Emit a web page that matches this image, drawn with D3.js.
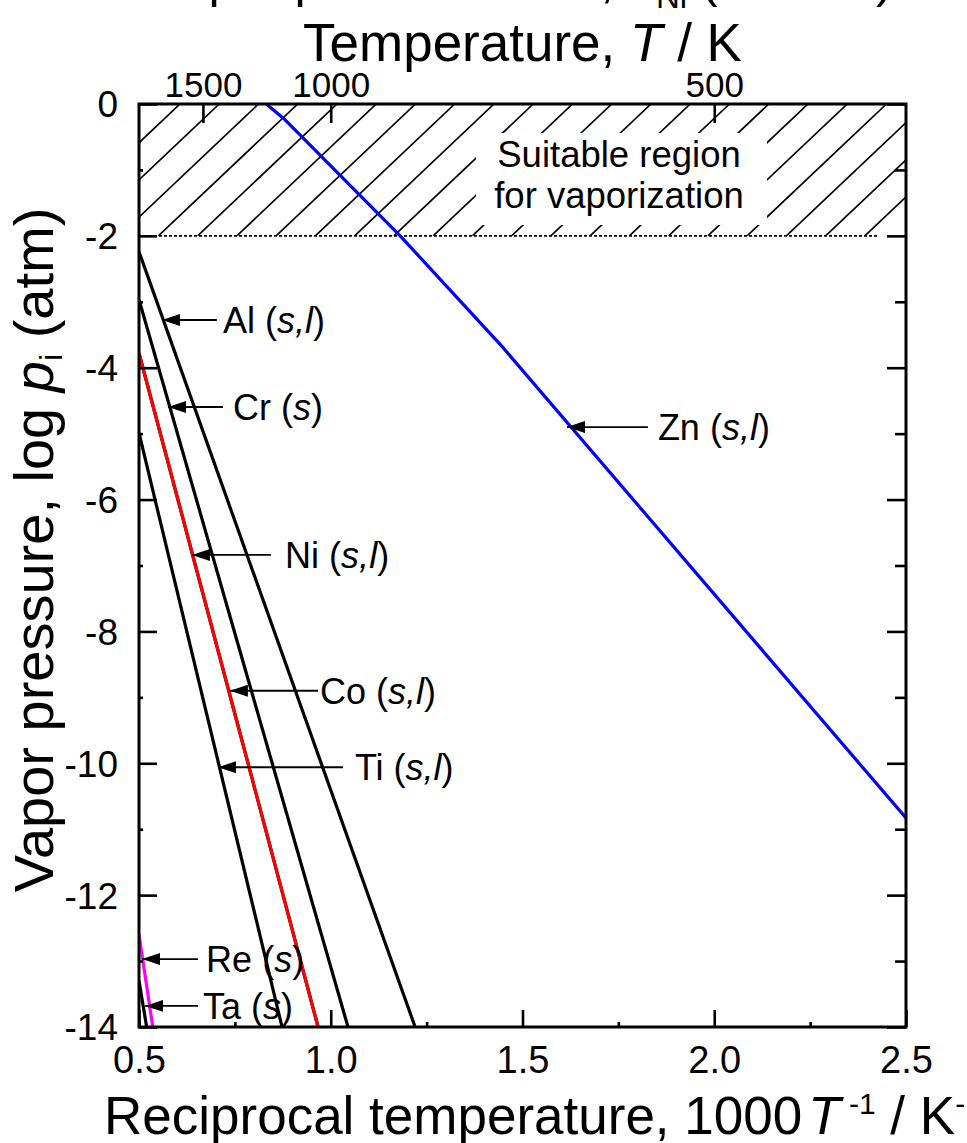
<!DOCTYPE html>
<html>
<head>
<meta charset="utf-8">
<script src="https://cdn.jsdelivr.net/npm/d3@7/dist/d3.min.js"></script>
<style>
  html, body { margin: 0; padding: 0; background: #fff; }
  svg { display: block; font-family: "Liberation Sans", Arial, Helvetica, sans-serif; }
</style>
</head>
<body>
<svg id="chart" width="967" height="1143"></svg>
<script>
// ---------------- data ----------------
const xTicks = [0.5, 1.0, 1.5, 2.0, 2.5];
const xTickLabels = ["0.5", "1.0", "1.5", "2.0", "2.5"];
const xMinorTicks = [0.75, 1.25, 1.75, 2.25];
const yTicks = [0, -2, -4, -6, -8, -10, -12, -14];
const yTickLabels = ["0", "-2", "-4", "-6", "-8", "-10", "-12", "-14"];
const yMinorTicks = [-1, -3, -5, -7, -9, -11, -13];
const topTemps = [1500, 1000, 500];
const topTempLabels = ["1500", "1000", "500"];
const suitableLimit = -2;

// vapor pressure lines: reciprocal temperature (1000/T) vs log p
const alX = [0.5, 1.22],  alY = [-2.24, -14];
const crX = [0.5, 1.045], crY = [-2.97, -14];
const coX = [0.5, 0.967], coY = [-3.78, -14];
const niX = [0.5, 0.967], niY = [-3.78, -14];
const tiX = [0.5, 0.873], tiY = [-4.99, -14];
const taX = [0.5, 0.52],  taY = [-13.3, -14];
const reX = [0.5, 0.536], reY = [-12.6, -14];
const znX = [0.832, 0.881, 1.181, 1.444, 2.5];
const znY = [0, -0.24, -2.0, -3.66, -10.83];

const seriesNames  = ["Al", "Cr", "Co", "Ti", "Ta", "Ni", "Re", "Zn"];
const seriesX      = [alX, crX, coX, tiX, taX, niX, reX, znX];
const seriesY      = [alY, crY, coY, tiY, taY, niY, reY, znY];
const seriesColors = ["#000", "#000", "#000", "#000", "#000", "#ff0000", "#ff00ff", "#0000ff"];

// annotation labels: element, phase, arrow tip x/y, arrow tail x, text x (data units)
const labelNames  = ["Al", "Cr", "Ni", "Co", "Ti", "Re", "Ta", "Zn"];
const labelPhases = ["s,l", "s", "s,l", "s,l", "s,l", "s", "s", "s,l"];
const labelTipX   = [0.560, 0.5756, 0.638, 0.737, 0.706, 0.508, 0.516, 1.616];
const labelTipY   = [-3.276, -4.596, -6.84, -8.90, -10.06, -12.97, -13.68, -4.90];
const labelTailX  = [0.703, 0.719, 0.844, 0.967, 1.032, 0.654, 0.654, 1.827];
const labelTextX  = [0.719, 0.745, 0.881, 0.972, 1.063, 0.675, 0.667, 1.853];

// ---------------- layout ----------------
const svg = d3.select("#chart");
const L = 139, R = 906, T = 104, B = 1027;
const x = d3.scaleLinear().domain([0.5, 2.5]).range([L, R]);
const y = d3.scaleLinear().domain([0, -14]).range([T, B]);

const defs = svg.append("defs");
defs.append("clipPath").attr("id", "plotclip")
  .append("rect").attr("x", L).attr("y", T).attr("width", R - L).attr("height", B - T);
defs.append("clipPath").attr("id", "hatchclip")
  .append("rect").attr("x", L).attr("y", y(0)).attr("width", R - L).attr("height", y(suitableLimit) - y(0));
defs.append("marker").attr("id", "arrow")
  .attr("viewBox", "0 0 18 12").attr("refX", 18).attr("refY", 6)
  .attr("markerWidth", 18).attr("markerHeight", 12).attr("markerUnits", "userSpaceOnUse")
  .attr("orient", "auto")
  .append("path").attr("d", "M0,0 L18,6 L0,12 Z").attr("fill", "#000");

// hatched region
const hatch = svg.append("g").attr("clip-path", "url(#hatchclip)");
const hSlope = 0.946, hStep = 39.25, hStart = 180;
const hatchOffsets = d3.range(-6, 22).map(k => hStart + k * hStep);
hatch.selectAll("line").data(hatchOffsets).enter().append("line")
  .attr("x1", d => d).attr("y1", y(0))
  .attr("x2", d => d - (y(suitableLimit) - y(0)) / hSlope).attr("y2", y(suitableLimit))
  .attr("stroke", "#000").attr("stroke-width", 1.7);
// white box behind region text
svg.append("rect").attr("x", 476).attr("y", 133).attr("width", 291).attr("height", 92).attr("fill", "#fff");
const regionText = svg.append("text").attr("text-anchor", "middle")
  .attr("font-size", 36.5).attr("fill", "#000");
regionText.append("tspan").attr("x", 619).attr("y", 167).text("Suitable region");
regionText.append("tspan").attr("x", 619).attr("y", 208).text("for vaporization");

// dashed limit line
svg.append("line").attr("x1", L).attr("x2", R - 28)
  .attr("y1", y(suitableLimit)).attr("y2", y(suitableLimit))
  .attr("stroke", "#000").attr("stroke-width", 1.8).attr("stroke-dasharray", "3,2");

// curves
const lineGen = d3.line().x(d => x(d[0])).y(d => y(d[1]));
const curves = svg.append("g").attr("clip-path", "url(#plotclip)");
seriesNames.forEach((n, i) => {
  const pts = seriesX[i].map((v, j) => [v, seriesY[i][j]]);
  curves.append("path").datum(pts).attr("d", lineGen)
    .attr("fill", "none").attr("stroke", seriesColors[i])
    .attr("stroke-width", 3.2).attr("stroke-linejoin", "round");
});

// axes
function styleAxis(g) {
  g.select(".domain").remove();
  g.selectAll(".tick line").attr("stroke", "#000").attr("stroke-width", 2.6);
  g.selectAll(".tick text").attr("fill", "#000").attr("font-family", "'Liberation Sans', Arial, sans-serif");
}
const gBottom = svg.append("g").attr("transform", `translate(0,${B})`)
  .call(d3.axisBottom(x).tickValues(xTicks).tickSize(-17).tickPadding(19)
    .tickFormat((d, i) => xTickLabels[i]));
styleAxis(gBottom);
gBottom.selectAll(".tick text").attr("font-size", 38).attr("dy", "0.71em");
const gBottomMinor = svg.append("g").attr("transform", `translate(0,${B})`)
  .call(d3.axisBottom(x).tickValues(xMinorTicks).tickSize(-5).tickFormat(""));
styleAxis(gBottomMinor);

const gTop = svg.append("g").attr("transform", `translate(0,${T})`)
  .call(d3.axisTop(x).tickValues(topTemps.map(t => 1000 / t)).tickSize(-19).tickPadding(7)
    .tickFormat((d, i) => topTempLabels[i]));
styleAxis(gTop);
gTop.selectAll(".tick text").attr("font-size", 35);

const gLeft = svg.append("g").attr("transform", `translate(${L},0)`)
  .call(d3.axisLeft(y).tickValues(yTicks).tickSize(-18).tickPadding(21)
    .tickFormat((d, i) => yTickLabels[i]));
styleAxis(gLeft);
gLeft.selectAll(".tick text").attr("font-size", 37).attr("dy", "0.35em");
const gLeftMinor = svg.append("g").attr("transform", `translate(${L},0)`)
  .call(d3.axisLeft(y).tickValues(yMinorTicks).tickSize(-4).tickFormat(""));
styleAxis(gLeftMinor);

const gRight = svg.append("g").attr("transform", `translate(${R},0)`)
  .call(d3.axisRight(y).tickValues(yTicks).tickSize(-19).tickFormat(""));
styleAxis(gRight);
const gRightMinor = svg.append("g").attr("transform", `translate(${R},0)`)
  .call(d3.axisRight(y).tickValues(yMinorTicks).tickSize(-11).tickFormat(""));
styleAxis(gRightMinor);

// frame
svg.append("rect").attr("x", L).attr("y", T).attr("width", R - L).attr("height", B - T)
  .attr("fill", "none").attr("stroke", "#000").attr("stroke-width", 3);

// annotations
labelNames.forEach((n, i) => {
  const yy = y(labelTipY[i]);
  svg.append("line").attr("x1", x(labelTailX[i])).attr("y1", yy)
    .attr("x2", x(labelTipX[i])).attr("y2", yy)
    .attr("stroke", "#000").attr("stroke-width", 1.8).attr("marker-end", "url(#arrow)");
  const t = svg.append("text").attr("x", x(labelTextX[i])).attr("y", yy + 13)
    .attr("font-size", 36).attr("fill", "#000");
  t.append("tspan").text(n + " (");
  const parts = labelPhases[i].split(",");
  parts.forEach((p, k) => {
    t.append("tspan").attr("font-style", "italic").text(p);
    if (k < parts.length - 1) t.append("tspan").attr("font-style", "italic").text(",");
  });
  t.append("tspan").text(")");
});

// axis titles
const topTitle = svg.append("text").attr("x", (L + R) / 2).attr("y", 61)
  .attr("text-anchor", "middle").attr("font-size", 53).attr("fill", "#000");
topTitle.append("tspan").text("Temperature, ");
topTitle.append("tspan").attr("font-style", "italic").text("T");
topTitle.append("tspan").text(" / K");

const botTitle = svg.append("text").attr("x", 104).attr("y", 1134)
  .attr("font-size", 53).attr("fill", "#000");
botTitle.append("tspan").text("Reciprocal temperature, 1000");
botTitle.append("tspan").attr("dx", 6).attr("font-style", "italic").text("T");
botTitle.append("tspan").attr("font-size", 30).attr("dy", -20).text(" -1");
botTitle.append("tspan").attr("dy", 20).text(" / K");
botTitle.append("tspan").attr("font-size", 30).attr("dy", -20).text("-1");

const yTitle = svg.append("text")
  .attr("transform", `translate(53,550) rotate(-90)`)
  .attr("text-anchor", "middle").attr("font-size", 56).attr("fill", "#000");
yTitle.append("tspan").text("Vapor pressure, log ");
yTitle.append("tspan").attr("font-style", "italic").text("p");
yTitle.append("tspan").attr("font-size", 32).attr("dy", 9).text("i");
yTitle.append("tspan").attr("dy", -9).text(" (atm)");

// cut-off main title at the very top (only its lowest part is inside the picture)
const mainTitle = svg.append("text").attr("x", 151).attr("y", -3)
  .attr("font-size", 50).attr("fill", "#000");
mainTitle.append("tspan").text("Vapor pressure of M, ");
mainTitle.append("tspan").attr("font-style", "italic").text("a");
mainTitle.append("tspan").attr("font-size", 33).attr("dy", 11).text("Ni");
mainTitle.append("tspan").attr("dy", -11).text(" (1873 K)");
</script>
</body>
</html>
